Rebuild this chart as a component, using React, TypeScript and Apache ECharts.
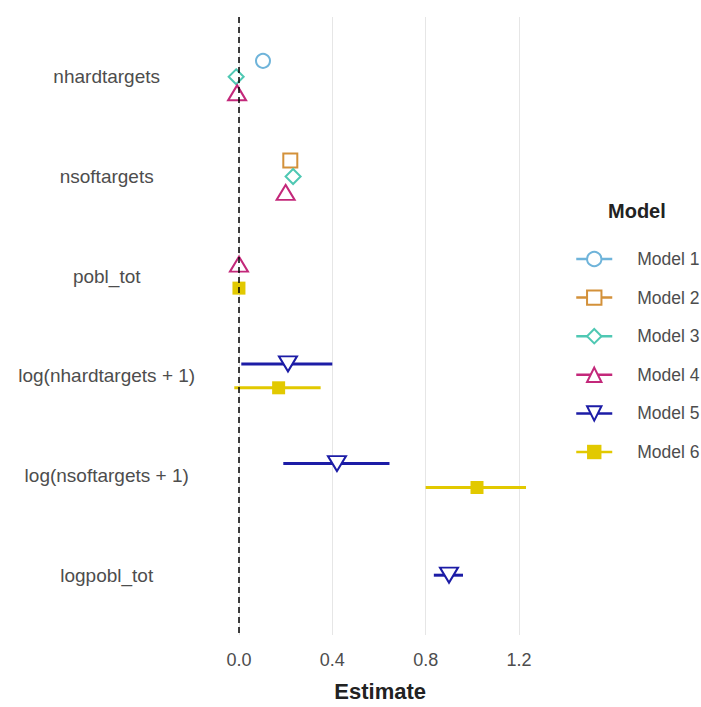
import React, { useEffect, useRef } from "react";
import * as echarts from "echarts";

const terms = [
  "nhardtargets",
  "nsoftargets",
  "pobl_tot",
  "log(nhardtargets + 1)",
  "log(nsoftargets + 1)",
  "logpobl_tot",
];
const modelNames = ["Model 1", "Model 2", "Model 3", "Model 4", "Model 5", "Model 6"];
const modelColors = ["#6fb4da", "#d3913a", "#4fc8b3", "#c3287a", "#1c1ca6", "#e2c900"];
const modelSymbols = ["emptyCircle", "emptyRect", "emptyDiamond", "emptyTriangle", "emptyTriangle", "rect"];
const modelRotate = [0, 0, 0, 0, 180, 0];

// estimates per term (null = term not in model)
const estM1 = [0.103, null, null, null, null, null];
const estM2 = [null, 0.22, null, null, null, null];
const estM3 = [-0.012, 0.232, null, null, null, null];
const estM4 = [-0.008, 0.2, 0.0, null, null, null];
const estM5 = [null, null, null, 0.21, 0.42, 0.9];
const estM6 = [null, null, 0.0, 0.17, 1.02, null];

const loM1 = [0.098, null, null, null, null, null];
const hiM1 = [0.108, null, null, null, null, null];
const loM2 = [null, 0.215, null, null, null, null];
const hiM2 = [null, 0.225, null, null, null, null];
const loM3 = [-0.017, 0.227, null, null, null, null];
const hiM3 = [-0.007, 0.237, null, null, null, null];
const loM4 = [-0.013, 0.195, -0.002, null, null, null];
const hiM4 = [-0.003, 0.205, 0.002, null, null, null];
const loM5 = [null, null, null, 0.01, 0.19, 0.835];
const hiM5 = [null, null, null, 0.4, 0.645, 0.96];
const loM6 = [null, null, -0.002, -0.02, 0.8, null];
const hiM6 = [null, null, 0.002, 0.35, 1.23, null];

const estimates = [estM1, estM2, estM3, estM4, estM5, estM6];
const lows = [loM1, loM2, loM3, loM4, loM5, loM6];
const highs = [hiM1, hiM2, hiM3, hiM4, hiM5, hiM6];

const DODGE = 0.48;

function dodgedY(termIdx: number, modelIdx: number): number {
  const present: number[] = [];
  for (let m = 0; m < estimates.length; m++) {
    if (estimates[m][termIdx] != null) present.push(m);
  }
  const n = present.length;
  const r = present.indexOf(modelIdx);
  return termIdx + (r - (n - 1) / 2) * (DODGE / n);
}

const FONT = "'Liberation Sans', Arial, Helvetica, sans-serif";

export default function App() {
  const ref = useRef<HTMLDivElement>(null);
  useEffect(() => {
    if (!ref.current) return;
    const chart = echarts.init(ref.current, null, { renderer: "svg" });

    const series: any[] = [];
    modelNames.forEach((name, m) => {
      const color = modelColors[m];
      const ciData: number[][] = [];
      const ptData: number[][] = [];
      terms.forEach((_, t) => {
        const e = estimates[m][t];
        if (e == null) return;
        const y = dodgedY(t, m);
        ptData.push([e, y]);
        const lo = lows[m][t];
        const hi = highs[m][t];
        if (lo != null && hi != null) ciData.push([lo, hi, y]);
      });
      series.push({
        name: name + " CI",
        type: "custom",
        z: 2,
        silent: true,
        encode: { x: [0, 1], y: 2 },
        data: ciData,
        renderItem: (_p: any, api: any) => {
          const y = api.value(2);
          const p1 = api.coord([api.value(0), y]);
          const p2 = api.coord([api.value(1), y]);
          return {
            type: "line",
            shape: { x1: p1[0], y1: p1[1], x2: p2[0], y2: p2[1] },
            style: { stroke: color, lineWidth: 3 },
          };
        },
      });
      const s: any = {
        name,
        type: "line",
        z: 3,
        color,
        data: ptData,
        symbol: modelSymbols[m],
        symbolRotate: modelRotate[m],
        symbolSize: m === 3 || m === 4 ? [18, 15] : m === 5 ? 13 : m === 2 ? 15 : 14,
        showSymbol: true,
        lineStyle: { width: 0, color },
        itemStyle: { color, borderWidth: 1.3 },
      };
      if (m === 0) {
        s.markLine = {
          silent: true,
          symbol: ["none", "none"],
          label: { show: false },
          lineStyle: { color: "#000", type: [6, 4], width: 1.5 },
          data: [{ xAxis: 0 }],
        };
      }
      series.push(s);
    });

    chart.setOption({
      animation: false,
      backgroundColor: "#fff",
      textStyle: { fontFamily: FONT },
      title: {
        text: "Model",
        left: 608,
        top: 201,
        padding: 0,
        textStyle: { fontSize: 20, fontWeight: "bold", color: "#222", fontFamily: FONT },
      },
      legend: {
        orient: "vertical",
        left: 575,
        top: 250,
        padding: 0,
        itemWidth: 36,
        itemHeight: 18,
        itemGap: 20.6,
        selectedMode: false,
        data: modelNames,
        lineStyle: { width: 2.5, opacity: 1 },
        textStyle: { fontSize: 17.5, color: "#4d4d4d", padding: [0, 0, 0, 20], lineHeight: 18, fontFamily: FONT },
      },
      grid: { left: 219.7, width: 320.9, top: 17, height: 622.5 },
      xAxis: {
        type: "value",
        min: -0.0825,
        max: 1.2925,
        minInterval: 0.4,
        maxInterval: 0.4,
        splitNumber: 3,
        axisLine: { show: false },
        axisTick: { show: false },
        axisLabel: {
          showMinLabel: false,
          showMaxLabel: false,
          formatter: (v: number) => v.toFixed(1),
          fontSize: 18,
          color: "#4d4d4d",
          margin: 16,
        },
        splitLine: { show: true, showMinLine: false, showMaxLine: false, lineStyle: { color: "#e6e6e6", width: 1 } },
        name: "Estimate",
        nameLocation: "middle",
        nameGap: 45,
        nameTextStyle: { fontSize: 22, fontWeight: "bold", color: "#222" },
      },
      yAxis: {
        type: "value",
        inverse: true,
        min: -0.6,
        max: 5.6,
        minInterval: 1,
        maxInterval: 1,
        axisLine: { show: false },
        axisTick: { show: false },
        splitLine: { show: false },
        axisLabel: {
          showMinLabel: false,
          showMaxLabel: false,
          align: "center",
          margin: 113,
          fontSize: 19,
          color: "#4d4d4d",
          padding: [8, 0, 0, 0],
          formatter: (v: number) => {
            const r = Math.round(v);
            if (Math.abs(v - r) > 1e-6) return "";
            return terms[r] ?? "";
          },
        },
      },
      series,
    });
    return () => chart.dispose();
  }, []);
  return <div ref={ref} style={{ width: 701, height: 707, position: "absolute", left: 0, top: 0 }} />;
}
